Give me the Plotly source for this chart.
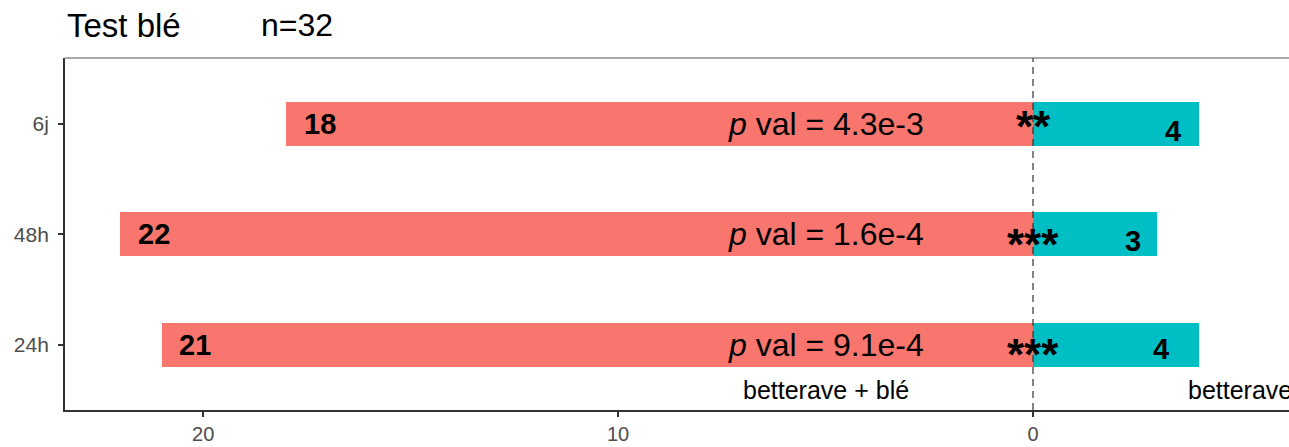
import plotly.graph_objects as go

# ---- data ----
timepoints = ["24h", "48h", "6j"]
count_mixed = [21, 22, 18]      # betterave + blé (drawn to the left)
count_alone = [4, 3, 4]         # betterave (drawn to the right)
p_labels = ["9.1e-4", "1.6e-4", "4.3e-3"]
stars = ["***", "***", "**"]
title_text = "Test blé"
n_text = "n=32"
side_labels = ["betterave + blé", "betterave"]
x_tickvals = [-20, -10, 0]
x_ticktext = ["20", "10", "0"]

# ---- layout constants ----
RED = "#F8766D"
TEAL = "#00BFC4"
FONT = "Liberation Sans, Arial, sans-serif"
right_label_offset = [0.92, 0.6, 0.62]
right_label_yshift = [-4, -7, -7]
star_yshift = [-10, -10, -2]

fig = go.Figure()
fig.add_trace(go.Bar(
    y=timepoints, x=[-v for v in count_mixed], orientation="h",
    marker=dict(color=RED, line=dict(width=0)), width=0.4, showlegend=False,
    hoverinfo="skip"))
fig.add_trace(go.Bar(
    y=timepoints, x=count_alone, orientation="h",
    marker=dict(color=TEAL, line=dict(width=0)), width=0.4, showlegend=False,
    hoverinfo="skip"))

ann = []
for i, tp in enumerate(timepoints):
    # left counts
    ann.append(dict(x=-count_mixed[i] + 0.38, y=tp, xref="x", yref="y",
                    text=f"<b>{count_mixed[i]}</b>", showarrow=False,
                    xanchor="left", yanchor="middle",
                    font=dict(family=FONT, size=29, color="black")))
    # right counts
    ann.append(dict(x=count_alone[i] - right_label_offset[i], y=tp, xref="x", yref="y",
                    text=f"<b>{count_alone[i]}</b>", showarrow=False,
                    xanchor="center", yanchor="middle", yshift=right_label_yshift[i],
                    font=dict(family=FONT, size=29, color="black")))
    # p value
    ann.append(dict(x=-5, y=tp, xref="x", yref="y",
                    text=f"<i>p</i> val = {p_labels[i]}", showarrow=False,
                    xanchor="center", yanchor="middle",
                    font=dict(family=FONT, size=32, color="black")))
    # stars
    ann.append(dict(x=0, y=tp, xref="x", yref="y",
                    text=f"<b>{stars[i]}</b>", showarrow=False,
                    xanchor="center", yanchor="middle", yshift=star_yshift[i],
                    font=dict(family=FONT, size=44, color="black")))

# side labels
ann.append(dict(x=-5, y=-0.41, xref="x", yref="y", text=side_labels[0],
                showarrow=False, xanchor="center", yanchor="middle",
                font=dict(family=FONT, size=25, color="black")))
ann.append(dict(x=5, y=-0.41, xref="x", yref="y", text=side_labels[1],
                showarrow=False, xanchor="center", yanchor="middle",
                font=dict(family=FONT, size=25, color="black")))

# titles
ann.append(dict(x=0, y=1, xref="paper", yref="paper", text=title_text,
                showarrow=False, xanchor="left", yanchor="middle", yshift=33,
                font=dict(family=FONT, size=33, color="black")))
ann.append(dict(x=194 / 1224, y=1, xref="paper", yref="paper", text=n_text,
                showarrow=False, xanchor="left", yanchor="middle", yshift=33,
                font=dict(family=FONT, size=32, color="black")))

fig.update_layout(
    width=1289, height=447,
    margin=dict(l=65, r=0, t=58, b=37, pad=0),
    paper_bgcolor="white", plot_bgcolor="white",
    barmode="relative", bargap=0,
    annotations=ann,
    shapes=[
        dict(type="line", xref="x", yref="paper", x0=0, x1=0, y0=0, y1=1,
             line=dict(color="#333333", width=1.2, dash="7px,5px")),
        dict(type="line", xref="paper", yref="paper", x0=0, x1=1, y0=1, y1=1,
             line=dict(color="#555555", width=1.2)),
    ],
    xaxis=dict(range=[-23.33, 6.17], tickvals=x_tickvals, ticktext=x_ticktext,
               showgrid=False, zeroline=False, showline=True, linecolor="#333333",
               linewidth=1.8, ticks="outside", ticklen=5, tickwidth=1.5,
               tickcolor="#333333",
               tickfont=dict(family=FONT, size=20, color="#4D4D4D")),
    yaxis=dict(categoryorder="array", categoryarray=timepoints,
               range=[-0.593, 2.6], showgrid=False, zeroline=False,
               showline=True, linecolor="#333333", linewidth=1.8,
               ticks="outside", ticklen=5, tickwidth=1.5, tickcolor="#333333",
               ticklabelstandoff=5,
               tickfont=dict(family=FONT, size=21, color="#4D4D4D")),
)

fig.write_html("out.html", config={"displayModeBar": False},
               post_script="document.body.style.margin='0';document.body.style.overflow='hidden';")
